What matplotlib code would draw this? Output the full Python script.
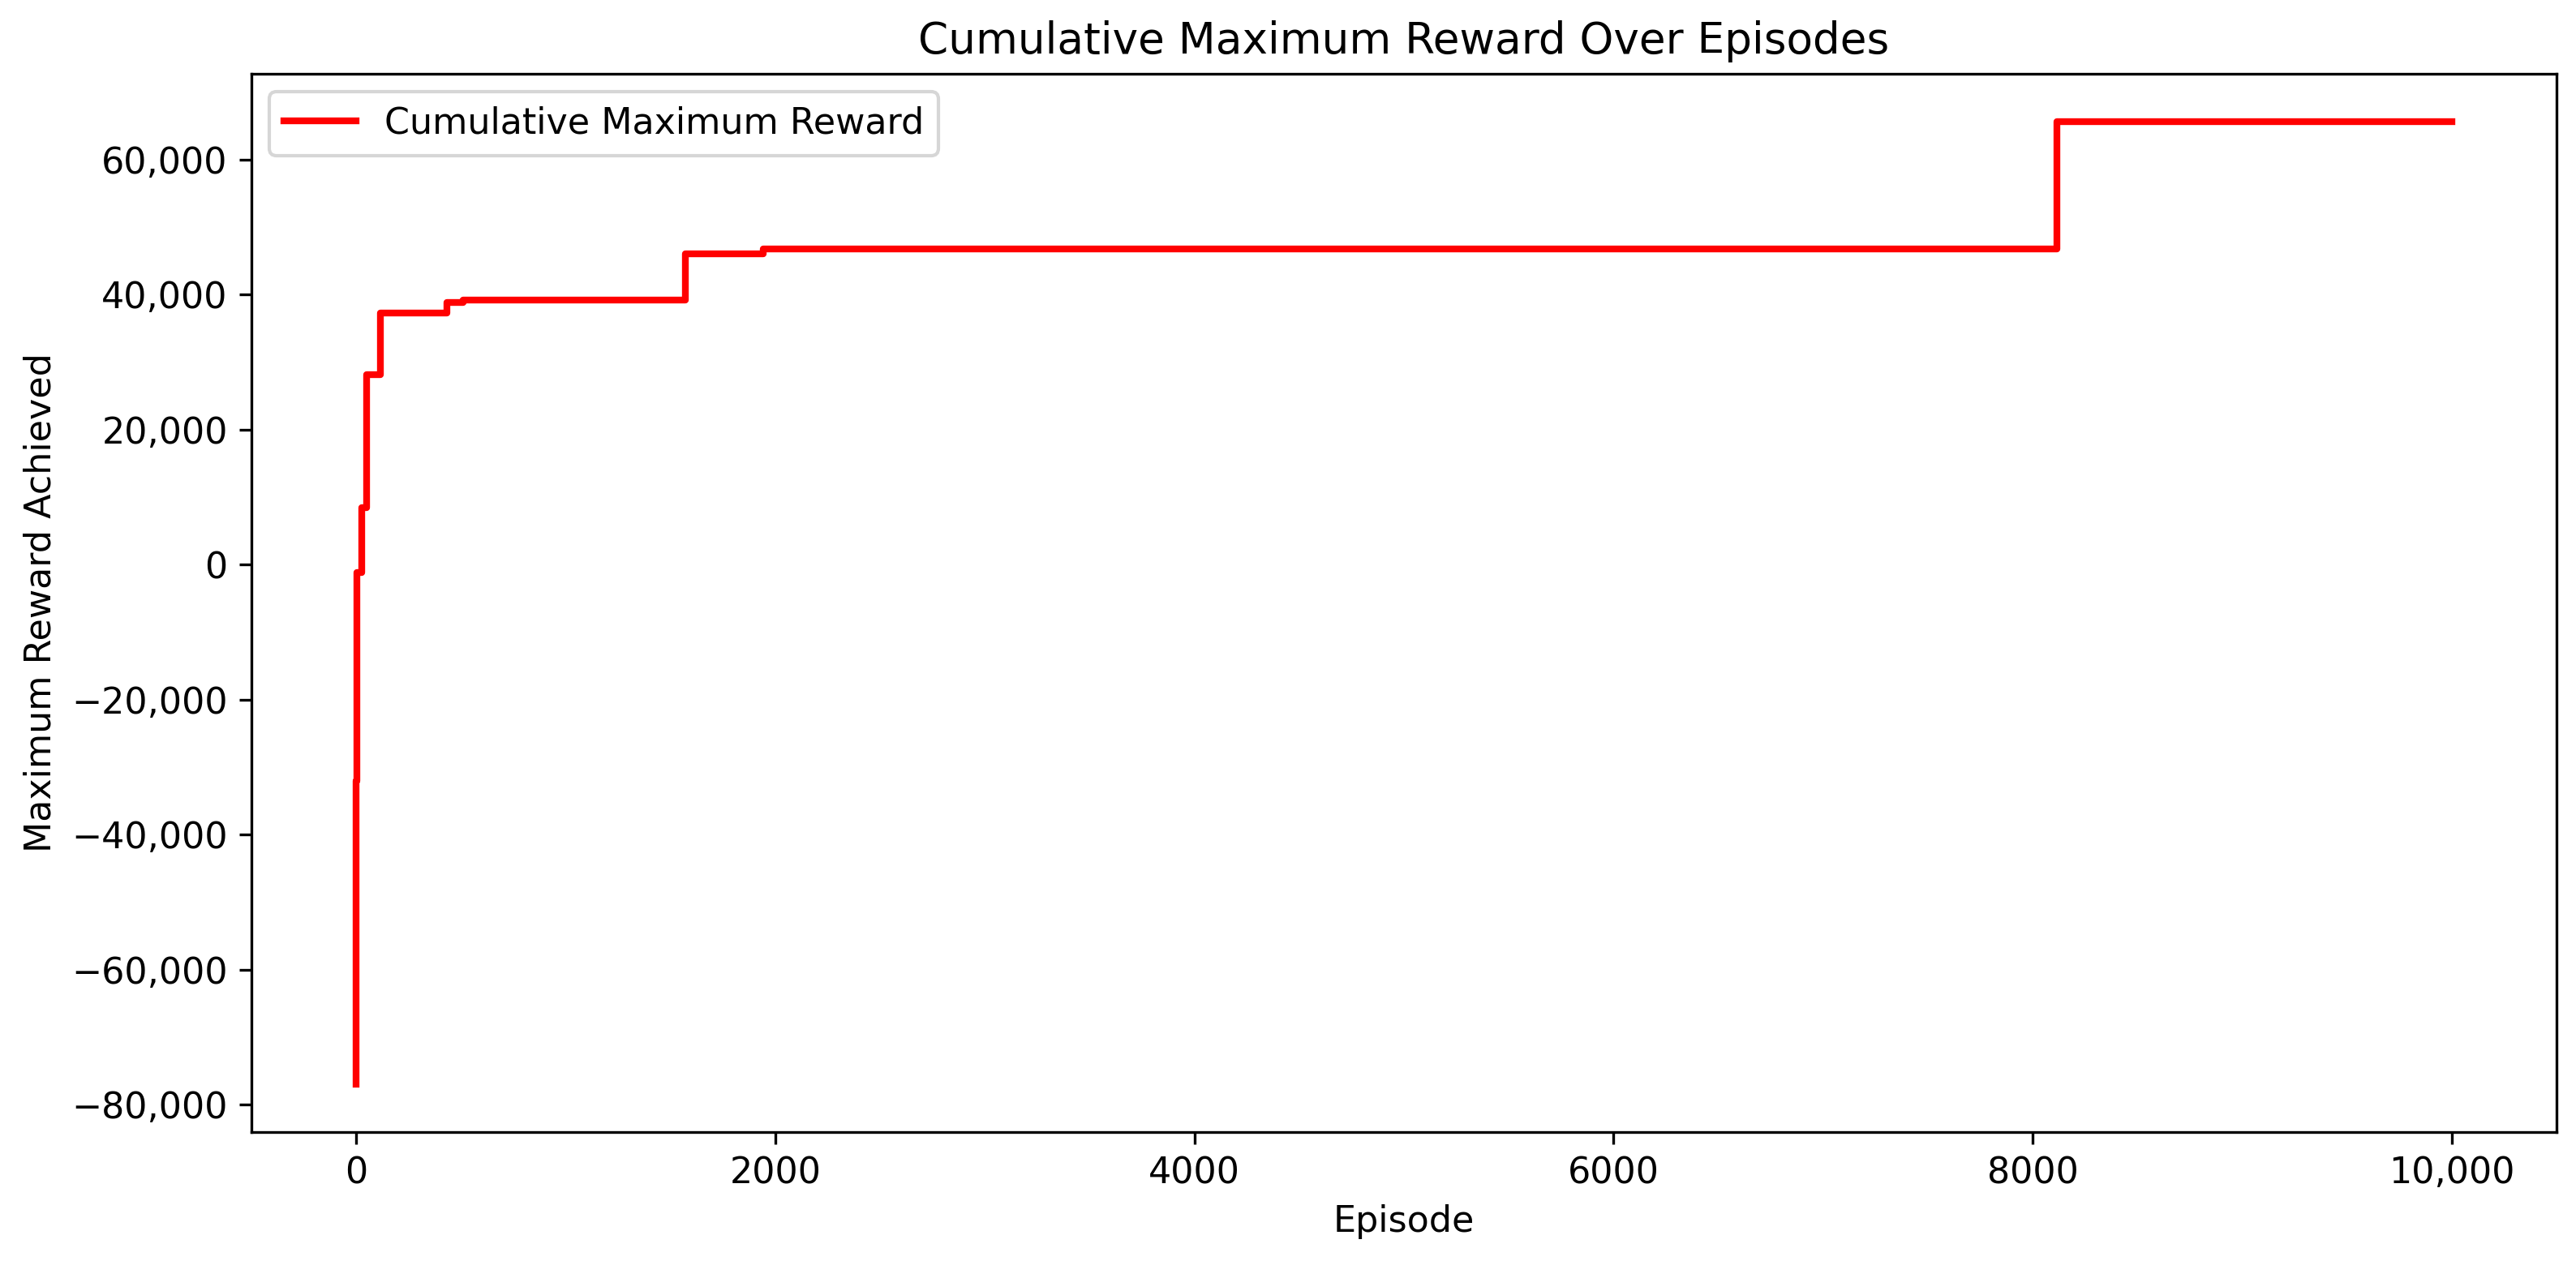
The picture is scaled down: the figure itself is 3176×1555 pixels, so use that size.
import numpy as np
import matplotlib
matplotlib.use('Agg')
import matplotlib.pyplot as plt
from matplotlib.ticker import FuncFormatter

plt.rcParams['font.size'] = 10.65

# episodes where a new maximum was reached, and the maximum from there on
episodes = [0, 1, 2, 27, 48, 117, 433, 511, 1571, 1943, 8115, 10000]
max_reward = [-76900, -32000, -1200, 8500, 28100, 37300, 38900, 39200, 46100, 46800, 65600, 65600]

fig, ax = plt.subplots(figsize=(3176 / 300, 1555 / 300), dpi=300)
fig.subplots_adjust(left=0.0976, right=0.9924, top=0.9415, bottom=0.1023)

ax.step(episodes, max_reward, where='post', color='red', linewidth=2,
        label='Cumulative Maximum Reward')

ax.set_title('Cumulative Maximum Reward Over Episodes')
ax.set_xlabel('Episode')
ax.set_ylabel('Maximum Reward Achieved')
ax.legend(loc='upper left')

ax.xaxis.set_major_formatter(FuncFormatter(
    lambda x, p: f'{x:,.0f}' if abs(x) >= 10000 else f'{x:.0f}'))
ax.yaxis.set_major_formatter(FuncFormatter(
    lambda y, p: f'{y:,.0f}'.replace('-', '\u2212')))

plt.savefig('out.png', dpi=300)
